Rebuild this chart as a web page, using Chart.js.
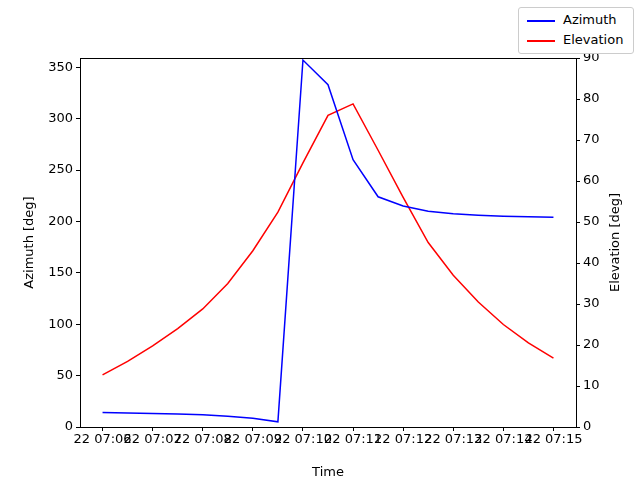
<!DOCTYPE html>
<html><head><meta charset="utf-8">
<script src="https://cdn.jsdelivr.net/npm/chart.js@4"></script>
<style>
body{margin:0;background:#fff;font-family:"DejaVu Sans",sans-serif;}
#wrap{position:relative;width:640px;height:480px;}
#leg{position:absolute;left:518px;top:7px;width:114px;height:45px;border:1px solid #ccc;border-radius:3px;background:#fff;font-size:13px;}
.it{position:absolute;left:8px;height:16px;line-height:16px;}
.ln{display:inline-block;width:28px;height:0;border-top:2px solid;vertical-align:middle;margin-right:8px;}
</style></head><body>
<div id="wrap"><canvas id="c" width="640" height="480"></canvas>
<div id="leg"><div class="it" style="top:4px"><span class="ln" style="border-color:#0000ff"></span>Azimuth</div>
<div class="it" style="top:24px"><span class="ln" style="border-color:#ff0000"></span>Elevation</div></div></div>
<script>
const timesMin=[0,0.5,1,1.5,2,2.5,3,3.5,4,4.5,5,5.5,6,6.5,7,7.5,8,8.5,9];
const azimuth=[14,13.7,13.2,12.6,11.8,10.5,8.5,5,357,333,260,224,215,210,207.5,206,205,204.5,204];
const elevation=[12.7,16,19.8,24,28.8,35,43,52.4,64.4,76,78.8,67.5,56,45,37,30.5,25,20.5,16.8];
const tickLabels=["22 07:06","22 07:07","22 07:08","22 07:09","22 07:10","22 07:11","22 07:12","22 07:13","22 07:14","22 07:15"];
const font={family:"DejaVu Sans",size:13};
const grid={drawOnChartArea:false,drawTicks:true,tickLength:4,color:'#000'};
const frame={id:'frame',afterDraw(c){const a=c.chartArea,x=c.ctx;x.save();x.strokeStyle='#000';x.lineWidth=1;
 x.strokeRect(a.left+0.5,a.top+0.5,a.right-a.left,a.bottom-a.top);
 x.fillStyle='#000';x.font='13px "DejaVu Sans"';x.textAlign='center';x.textBaseline='middle';
 const my=(a.top+a.bottom)/2;
 x.save();x.translate(30,my);x.rotate(-Math.PI/2);x.fillText('Azimuth [deg]',0,0);x.restore();
 x.save();x.translate(616,my);x.rotate(-Math.PI/2);x.fillText('Elevation [deg]',0,0);x.restore();
 x.restore();}};
new Chart(document.getElementById('c'),{type:'line',
data:{datasets:[
{label:'Azimuth',data:timesMin.map((t,i)=>({x:t,y:azimuth[i]})),borderColor:'#0000ff',borderWidth:1.5,pointRadius:0,yAxisID:'y',tension:0},
{label:'Elevation',data:timesMin.map((t,i)=>({x:t,y:elevation[i]})),borderColor:'#ff0000',borderWidth:1.5,pointRadius:0,yAxisID:'y1',tension:0}]},
plugins:[frame],
options:{responsive:false,animation:false,events:[],
layout:{padding:{top:58,left:0,right:0,bottom:0}},
plugins:{legend:{display:false},tooltip:{enabled:false}},
scales:{
x:{type:'linear',min:-0.45,max:9.45,grid:grid,border:{color:'#000'},
 afterBuildTicks:a=>{a.ticks=tickLabels.map((_,i)=>({value:i}));},
 ticks:{color:'#000',font:font,maxRotation:0,autoSkip:false,padding:1,callback:(v)=>tickLabels[v]},
 title:{display:true,text:'Time',color:'#000',font:font,padding:0},afterFit:a=>{a.height=53;}},
y:{position:'left',min:0,max:359,grid:grid,border:{color:'#000'},
 afterBuildTicks:a=>{a.ticks=[0,50,100,150,200,250,300,350].map(v=>({value:v}));},
 ticks:{color:'#000',font:font,padding:3},afterFit:a=>{a.width=80;}},
y1:{position:'right',min:0,max:90,grid:grid,border:{color:'#000'},
 ticks:{color:'#000',font:font,stepSize:10,padding:3},afterFit:a=>{a.width=64;}}
}}});
</script></body></html>
